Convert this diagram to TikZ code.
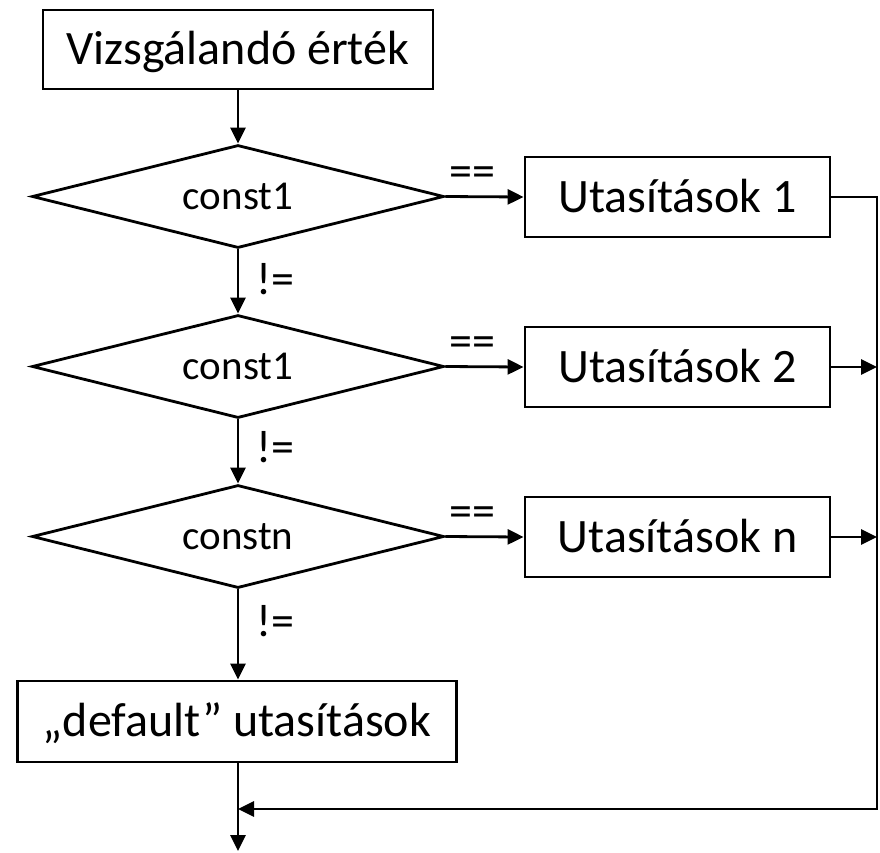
\documentclass[tikz,border=0pt]{standalone}
\usepackage{fontspec}
\setmainfont{Carlito}
\usetikzlibrary{shapes.geometric,arrows.meta}
\begin{document}
\begin{tikzpicture}[x=1pt,y=-1pt,
  line width=2.8pt,
  boxnode/.style={draw, rectangle, inner sep=0pt, text height=30pt, text depth=0pt,
    font=\fontsize{48}{56}\selectfont},
  decnode/.style={draw, diamond, inner sep=0pt, minimum width=412pt, minimum height=103pt,
    text height=0pt, text depth=0pt, text width=0pt, align=center,
    font=\fontsize{41}{48}\selectfont},
  arr/.style={-{Triangle[length=16pt,width=15pt]}},
  eqlab/.style={font=\fontsize{46}{52}\selectfont, inner sep=0pt},
]
\useasboundingbox (0,0) rectangle (880,852);

\node[boxnode, minimum width=390pt, minimum height=79pt] (top) at (238,49.5) {Vizsgálandó érték};
\node[decnode] (d1) at (238,196.5) {\makebox[0pt]{\raisebox{-13pt}[0pt][0pt]{const1}}};
\node[decnode] (d2) at (238,366.5) {\makebox[0pt]{\raisebox{-13pt}[0pt][0pt]{const1}}};
\node[decnode] (d3) at (238,536.5) {\makebox[0pt]{\raisebox{-13pt}[0pt][0pt]{constn}}};
\node[boxnode, minimum width=439pt, minimum height=81pt] (def) at (237,721.5) {„default” utasítások};

\node[boxnode, minimum width=305pt, minimum height=80pt] (b1) at (677.5,197) {Utasítások 1};
\node[boxnode, minimum width=305pt, minimum height=80pt] (b2) at (677.5,367) {Utasítások 2};
\node[boxnode, minimum width=305pt, minimum height=80pt] (bn) at (677.5,537) {Utasítások n};

\coordinate (join) at (238,809);
\coordinate (corner) at (877,809);
\coordinate (end) at (238,851);

\draw[arr] (top) -- (d1);
\draw[arr] (d1) -- (d2) node[eqlab, pos=0.46, anchor=west, xshift=17pt] {!=};
\draw[arr] (d2) -- (d3) node[eqlab, pos=0.43, anchor=west, xshift=17pt] {!=};
\draw[arr] (d3.south) -- (d3.south |- def.north) node[eqlab, pos=0.35, anchor=west, xshift=17pt] {!=};

\draw[arr] (d1.east) -- (b1.west) node[eqlab, pos=0.35, yshift=20pt] {==};
\draw[arr] (d2.east) -- (b2.west) node[eqlab, pos=0.35, yshift=20pt] {==};
\draw[arr] (d3.east) -- (bn.west) node[eqlab, pos=0.35, yshift=20pt] {==};

\draw[arr] (b1.east) -| (corner) -- (join);
\draw[arr] (b2.east) -- (b2.east -| corner);
\draw[arr] (bn.east) -- (bn.east -| corner);

\draw[arr] (def.south -| join) -- (end);
\end{tikzpicture}
\end{document}
